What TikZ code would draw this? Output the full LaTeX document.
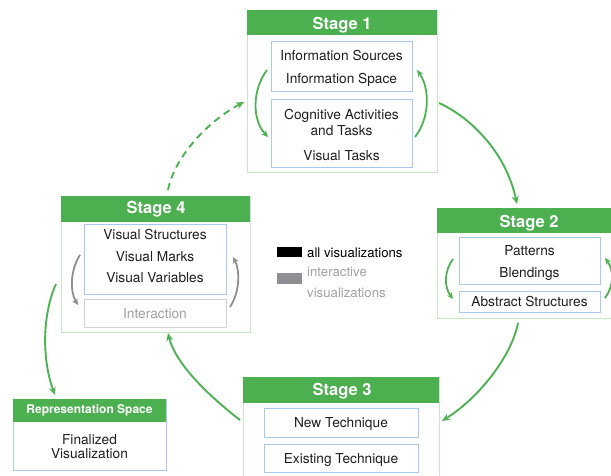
\documentclass[tikz,border=0pt]{standalone}
\usepackage{fontspec}
\setmainfont{TeX Gyre Heros}
\usetikzlibrary{arrows.meta}
\definecolor{hgreen}{RGB}{76,175,80}
\definecolor{agreen}{RGB}{78,178,82}
\definecolor{lgreen}{RGB}{200,232,200}
\definecolor{lblue}{RGB}{168,200,240}
\definecolor{lgray}{RGB}{210,210,212}
\definecolor{tgray}{RGB}{160,160,165}
\definecolor{agray}{RGB}{142,142,147}
\definecolor{ink}{RGB}{30,30,30}
\begin{document}
\begin{tikzpicture}[x=1pt,y=-1pt,
  outerbox/.style={draw=lgreen,line width=1pt,anchor=north west,inner sep=0pt,outer sep=0pt},
  headbox/.style={fill=hgreen,anchor=north west,inner sep=0pt,outer sep=0pt},
  innerbox/.style={draw=lblue,line width=0.9pt,anchor=north west,inner sep=0pt,outer sep=0pt},
  graybox/.style={draw=lgray,line width=0.9pt,anchor=north west,inner sep=0pt,outer sep=0pt},
  lbl/.style={anchor=base,inner sep=0pt,text=ink,font=\fontsize{13.7}{15}\selectfont},
  headtext/.style={anchor=base,inner sep=0pt,text=white,font=\bfseries\fontsize{16.5}{18}\selectfont},
  flow/.style={draw=agreen,line width=1.9pt,-{Stealth[length=8pt,width=7pt]}},
  cycle/.style={draw=agreen,line width=1.8pt,-{Stealth[length=6.5pt,width=6pt]}},
  graycycle/.style={draw=agray,line width=1.8pt,-{Stealth[length=6.5pt,width=6pt]}}]
\useasboundingbox (0,0) rectangle (611,475);
\clip (0,0) rectangle (611,475);

% ---------- Stage 1 ----------
\node[outerbox,minimum width=190pt,minimum height=162pt] (s1) at (247,10) {};
\node[headbox,minimum width=190pt,minimum height=25pt] (s1h) at (247,10) {};
\node[headtext] (s1t) at (342,29) {Stage 1};
\node[innerbox,minimum width=141pt,minimum height=50pt] (s1a) at (271,41) {};
\node[innerbox,minimum width=141pt,minimum height=68pt] (s1b) at (271,99) {};
\node[lbl] (s1a1) at (341.5,60) {Information Sources};
\node[lbl] (s1a2) at (341.5,83) {Information Space};
\node[lbl] (s1b1) at (341.5,119.5) {Cognitive Activities};
\node[lbl] (s1b2) at (341.5,135) {and Tasks};
\node[lbl] (s1b3) at (341.5,160) {Visual Tasks};
\coordinate (s1l1) at (267,70);  \coordinate (s1l2) at (268,137);
\coordinate (s1r1) at (415,137); \coordinate (s1r2) at (417,70);
\draw[cycle] (s1l1) .. controls (252,90) and (252,120) .. (s1l2);
\draw[cycle] (s1r1) .. controls (430,118) and (430,88) .. (s1r2);

% ---------- Stage 2 ----------
\node[outerbox,minimum width=185pt,minimum height=110pt] (s2) at (437,208) {};
\node[headbox,minimum width=185pt,minimum height=25pt] (s2h) at (437,208) {};
\node[headtext] (s2t) at (529,227) {Stage 2};
\node[innerbox,minimum width=141pt,minimum height=47pt] (s2a) at (459,237) {};
\node[innerbox,minimum width=141pt,minimum height=21pt] (s2b) at (459,291) {};
\node[lbl] (s2a1) at (529.5,255) {Patterns};
\node[lbl] (s2a2) at (529.5,277) {Blendings};
\node[lbl] (s2b1) at (529.5,306) {Abstract Structures};
\coordinate (s2l1) at (453,259);  \coordinate (s2l2) at (453,299);
\coordinate (s2r1) at (605,298);  \coordinate (s2r2) at (605,258);
\draw[cycle] (s2l1) .. controls (444,271) and (444,287) .. (s2l2);
\draw[cycle] (s2r1) .. controls (614,286) and (614,270) .. (s2r2);

% ---------- Stage 3 ----------
\node[outerbox,minimum width=196pt,minimum height=110pt] (s3) at (243,377) {};
\node[headbox,minimum width=196pt,minimum height=26pt] (s3h) at (243,377) {};
\node[headtext] (s3t) at (342,395) {Stage 3};
\node[innerbox,minimum width=154pt,minimum height=29pt] (s3a) at (264,408) {};
\node[innerbox,minimum width=154pt,minimum height=28pt] (s3b) at (264,444) {};
\node[lbl] (s3a1) at (341,427) {New Technique};
\node[lbl] (s3b1) at (341,463) {Existing Technique};

% ---------- Stage 4 ----------
\node[outerbox,minimum width=189pt,minimum height=136pt] (s4) at (61,196) {};
\node[headbox,minimum width=189pt,minimum height=26pt] (s4h) at (61,196) {};
\node[headtext] (s4t) at (156,213) {Stage 4};
\node[innerbox,minimum width=142pt,minimum height=70pt] (s4a) at (84,224) {};
\node[graybox,minimum width=142pt,minimum height=28pt] (s4b) at (84,299) {};
\node[lbl] (s4a1) at (155,239) {Visual Structures};
\node[lbl] (s4a2) at (155,261) {Visual Marks};
\node[lbl] (s4a3) at (155,282) {Visual Variables};
\node[lbl,text=tgray] (s4b1) at (155,318) {Interaction};
\coordinate (s4l1) at (80,255);  \coordinate (s4l2) at (78,305);
\coordinate (s4r1) at (230,307); \coordinate (s4r2) at (233,257);
\draw[graycycle] (s4l1) .. controls (70,270) and (70,292) .. (s4l2);
\draw[graycycle] (s4r1) .. controls (240,292) and (240,270) .. (s4r2);

% ---------- Representation space ----------
\node[draw=lblue,line width=0.9pt,anchor=north west,inner sep=0pt,outer sep=0pt,
      minimum width=153pt,minimum height=71pt] (rep) at (13,399) {};
\node[headbox,minimum width=153pt,minimum height=23pt] (reph) at (13,399) {};
\node[anchor=base,inner sep=0pt,text=white,font=\bfseries\fontsize{12}{14}\selectfont]
      (rept) at (89.5,413) {Representation Space};
\node[lbl] (rep1) at (89.5,444) {Finalized};
\node[lbl] (rep2) at (89.5,458) {Visualization};

% ---------- Legend ----------
\node[fill=black,anchor=north west,inner sep=0pt,minimum width=25pt,minimum height=10pt] (lgk) at (277,247) {};
\node[fill=agray,anchor=north west,inner sep=0pt,minimum width=25pt,minimum height=11pt] (lgg) at (277,273) {};
\node[anchor=base west,inner sep=0pt,text=black,font=\fontsize{13.2}{15}\selectfont] (lgk1) at (307,257) {all visualizations};
\node[anchor=base west,inner sep=0pt,text=tgray,font=\fontsize{13.2}{15}\selectfont] (lgg1) at (307,276) {interactive};
\node[anchor=base west,inner sep=0pt,text=tgray,font=\fontsize{13.2}{15}\selectfont] (lgg2) at (307,297) {visualizations};

% ---------- Flow between stages ----------
\coordinate (f12a) at (439,103); \coordinate (f12b) at (517,204);
\coordinate (f23a) at (518,323); \coordinate (f23b) at (442,421);
\coordinate (f34a) at (240,420); \coordinate (f34b) at (168,333);
\coordinate (f41a) at (168,190); \coordinate (f41b) at (244,102);
\coordinate (f4ra) at (56,284);  \coordinate (f4rb) at (55,395);
\draw[flow] (f12a) .. controls (470,117) and (506,152) .. (f12b);
\draw[flow] (f23a) .. controls (512,355) and (480,397) .. (f23b);
\draw[flow] (f34a) .. controls (205,393) and (175,362) .. (f34b);
\draw[flow,dash pattern=on 7pt off 5pt] (f41a) .. controls (175,155) and (210,120) .. (f41b);
\draw[flow] (f4ra) .. controls (42,315) and (42,360) .. (f4rb);
\end{tikzpicture}
\end{document}
